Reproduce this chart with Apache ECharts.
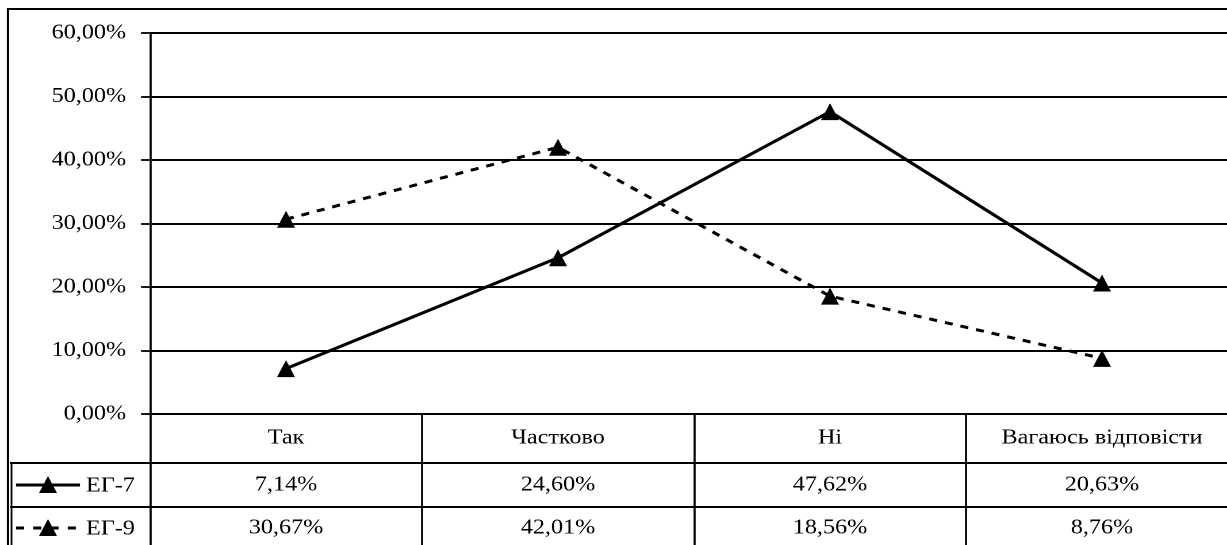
<!DOCTYPE html>
<html>
<head>
<meta charset="utf-8">
<script src="https://cdn.jsdelivr.net/npm/echarts@6/dist/echarts.min.js"></script>
<style>
  html, body { margin: 0; padding: 0; background: #fff; overflow: hidden; }
  #wrap { width: 1227px; height: 545px; overflow: hidden; position: relative; }
  #chart { height: 545px; transform-origin: 0 0; position: absolute; left: 0; top: 0; }
</style>
</head>
<body>
<div id="wrap"><div id="chart"></div></div>
<script>
// Survey answers by group, in percent
const categories = ['Так', 'Частково', 'Ні', 'Вагаюсь відповісти'];
const seriesNames = ['ЕГ-7', 'ЕГ-9'];
const eg7 = [7.14, 24.60, 47.62, 20.63];
const eg9 = [30.67, 42.01, 18.56, 8.76];
const yTicks = [0, 10, 20, 30, 40, 50, 60];

const FONT = '"Liberation Serif", "Times New Roman", serif';
const FS = 21;
// the drawing uses a slightly wide typeface, so the chart is stretched horizontally
const SX = 1.15;
const X = px => px / SX;

const fmt = v => v.toFixed(2).replace('.', ',') + '%';

const el = document.getElementById('chart');
el.style.width = X(1227) + 'px';
el.style.transform = `scaleX(${SX})`;

const chart = echarts.init(el, null, { renderer: 'canvas', devicePixelRatio: 2 });

const GRID = { left: X(150), top: 33, width: X(1088), height: 381, outerBoundsMode: 'none', containLabel: false };
const ROW1 = 463, ROW2 = 507;

const option = {
  animation: false,
  backgroundColor: '#fff',
  textStyle: { fontFamily: FONT, color: '#000' },
  grid: GRID,
  xAxis: {
    type: 'category',
    data: categories,
    boundaryGap: true,
    axisLine: { show: true, lineStyle: { color: '#000', width: 2 } },
    axisTick: { show: true, alignWithLabel: false, interval: 0, length: 135, lineStyle: { color: '#000', width: 1.8 } },
    axisLabel: {
      interval: 0,
      margin: 2,
      color: '#000',
      fontFamily: FONT,
      fontSize: FS,
      verticalAlign: 'top',
      hideOverlap: false,
      formatter: (value, idx) =>
        `{c|${value}}\n{a|${fmt(eg7[idx])}}\n{b|${fmt(eg9[idx])}}`,
      rich: {
        c: { fontFamily: FONT, fontSize: FS, color: '#000', lineHeight: 44 },
        a: { fontFamily: FONT, fontSize: FS, color: '#000', lineHeight: 50 },
        b: { fontFamily: FONT, fontSize: FS, color: '#000', lineHeight: 36 }
      }
    },
    splitLine: { show: false }
  },
  yAxis: {
    type: 'value',
    min: yTicks[0],
    max: yTicks[yTicks.length - 1],
    interval: 10,
    axisLine: { show: true, lineStyle: { color: '#000', width: 1.8 } },
    axisTick: { show: true, inside: false, length: X(9), lineStyle: { color: '#000', width: 1.8 } },
    axisLabel: {
      margin: X(24),
      color: '#000',
      fontFamily: FONT,
      fontSize: FS,
      formatter: v => fmt(v)
    },
    splitLine: { show: true, lineStyle: { color: '#000', width: 2 } }
  },
  series: [
    {
      name: seriesNames[0],
      type: 'line',
      data: eg7,
      symbol: 'triangle',
      symbolSize: [X(18), 17],
      lineStyle: { color: '#000', width: 3, type: 'solid' },
      itemStyle: { color: '#000' },
      z: 3
    },
    {
      name: seriesNames[1],
      type: 'line',
      data: eg9,
      symbol: 'triangle',
      symbolSize: [X(18), 17],
      lineStyle: { color: '#000', width: 3, type: [7, 7] },
      itemStyle: { color: '#000' },
      z: 3
    }
  ]
};

chart.setOption(option);

// Data table frame, legend keys and the outer border
function buildGraphics() {
  const right = X(1240);
  const mid1 = (ROW1 + ROW2) / 2;
  const mid2 = ROW2 + 21;
  const keyX0 = X(16), keyX1 = X(80), keyMid = X(48), half = X(9);
  const tri = y => [[keyMid - half, y + 8], [keyMid + half, y + 8], [keyMid, y - 9]];
  const els = [
    // outer chart border
    { type: 'rect', shape: { x: X(8), y: 9, width: X(1300), height: 600 },
      style: { fill: null, stroke: '#000', lineWidth: 2 }, silent: true, z: 10 },
    // table row separators
    { type: 'line', shape: { x1: X(10), y1: ROW1, x2: right, y2: ROW1 },
      style: { stroke: '#000', lineWidth: 2 }, z: 10 },
    { type: 'line', shape: { x1: X(10), y1: ROW2, x2: right, y2: ROW2 },
      style: { stroke: '#000', lineWidth: 2 }, z: 10 },
    // left edge of the legend column
    { type: 'line', shape: { x1: X(11.5), y1: ROW1, x2: X(11.5), y2: 545 },
      style: { stroke: '#000', lineWidth: 1.5 }, z: 10 },
    // key for first series
    { type: 'line', shape: { x1: keyX0, y1: mid1, x2: keyX1, y2: mid1 },
      style: { stroke: '#000', lineWidth: 3 }, z: 10 },
    { type: 'polygon', shape: { points: tri(mid1) }, style: { fill: '#000' }, z: 11 },
    { type: 'text', x: X(86), y: mid1 + 1, style: { text: seriesNames[0], font: `${FS}px ${FONT}`, fill: '#000', verticalAlign: 'middle', align: 'left' }, z: 11 },
    // key for second series
    { type: 'line', shape: { x1: keyX0, y1: mid2, x2: keyX1, y2: mid2 },
      style: { stroke: '#000', lineWidth: 3, lineDash: [7, 8] }, z: 10 },
    { type: 'polygon', shape: { points: tri(mid2) }, style: { fill: '#000' }, z: 11 },
    { type: 'text', x: X(86), y: mid2 + 1, style: { text: seriesNames[1], font: `${FS}px ${FONT}`, fill: '#000', verticalAlign: 'middle', align: 'left' }, z: 11 }
  ];
  chart.setOption({ graphic: { elements: els } });
}
buildGraphics();
</script>
</body>
</html>
